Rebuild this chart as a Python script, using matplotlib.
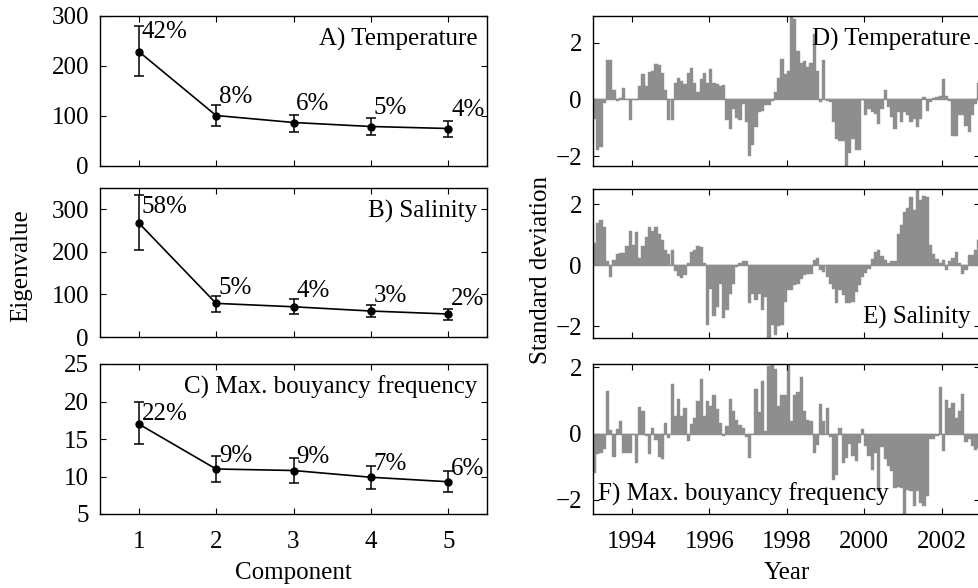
import matplotlib
matplotlib.use('Agg')
import matplotlib.pyplot as plt
import numpy as np

plt.rcParams['font.family'] = ['Liberation Serif', 'DejaVu Serif']
plt.rcParams['font.size'] = 18

# eigenvalue spectra (components 1-5) with error bars
components = [1, 2, 3, 4, 5]

temp_eig = [229, 101, 87, 79, 75]
temp_lo = [181, 80, 69, 63, 59]
temp_hi = [280, 123, 103, 96, 90]
temp_pct = ['42%', '8%', '6%', '5%', '4%']

sal_eig = [268, 79, 71, 61, 54]
sal_lo = [205, 59, 55, 46, 40]
sal_hi = [333, 97, 89, 76, 66]
sal_pct = ['58%', '5%', '4%', '3%', '2%']

buoy_eig = [17.0, 11.0, 10.8, 9.9, 9.3]
buoy_lo = [14.3, 9.3, 9.1, 8.4, 7.9]
buoy_hi = [19.9, 12.7, 12.5, 11.4, 10.7]
buoy_pct = ['22%', '9%', '9%', '7%', '6%']

# monthly principal component time series, Jan 1993 - Dec 2002
months = 1993 + (np.arange(120) + 0.5) / 12.0

temp_pc = [
    -0.7, -1.8, -1.68, -0.12, 1.38, 1.38, 0.32, -0.05, 0.05, 0.39, 0.02, -0.74,
    0.02, -0.03, 0.47, 0.9, 0.47, 0.96, 0.99, 1.26, 1.22, 0.93, 0.35, -0.74,
    -0.74, 0.59, 0.75, 0.67, 0.55, 0.93, 1.1, 0.58, 0.28, 0.73, 0.93, 0.59,
    1.06, 0.59, 0.55, 0.46, 0.52, -0.74, -1.06, -0.33, -0.66, -0.74, -0.15, -0.8,
    -2.0, -1.62, -0.98, -0.45, -0.39, -0.21, -0.18, -0.07, 0.28, 0.75, 1.44, 0.9,
    1.0, 2.95, 2.85, 1.7, 1.3, 1.35, 1.15, 1.3, 2.3, 1.0, -0.1, 1.4,
    -0.05, -0.1, -0.8, -1.4, -1.45, -1.45, -2.35, -1.9, -1.4, -1.8, -1.8, -0.02,
    -0.56, -0.33, -0.45, -0.5, -0.86, -0.33, 0.32, -0.27, -0.62, -1.04, -0.45, -0.8,
    -0.45, -0.56, -0.8, -0.68, -0.98, -0.68, 0.08, -0.39, -0.09, 0.05, 0.08, 0.14,
    0.73, 0.14, -0.05, -1.3, -1.3, -0.55, -0.55, -0.95, -1.15, -0.55, -0.15, 0.6,
]

sal_pc = [
    0.73, 1.38, 1.49, 1.25, 0.15, -0.38, 0.18, 0.38, 0.4, 0.4, 0.62, 1.12,
    0.65, 1.08, 0.25, 0.62, 0.93, 1.25, 1.14, 1.27, 1.03, 0.82, 0.49, 0.36,
    0.51, -0.19, -0.36, -0.41, -0.33, 0.08, 0.44, 0.51, 0.62, 0.6, 0.08, -1.96,
    -0.76, -1.67, -1.36, -0.6, -1.74, -1.47, -0.93, -0.6, -0.05, 0.08, 0.14, 0.14,
    -1.25, -0.93, -1.14, -0.93, -1.47, -1.03, -2.38, -1.96, -2.29, -2.0, -1.96, -1.2,
    -0.82, -0.8, -0.65, -0.6, -0.44, -0.33, -0.27, -0.3, 0.19, 0.25, -0.14, -0.22,
    -0.38, -0.6, -0.76, -1.23, -0.8, -0.98, -1.25, -1.25, -1.2, -0.87, -0.65, -0.38,
    -0.25, -0.11, 0.22, 0.44, 0.49, 0.29, 0.16, 0.08, 0.14, 0.14, 1.03, 1.31,
    1.74, 1.88, 2.25, 1.82, 2.5, 2.15, 2.28, 2.23, 0.65, 0.36, 0.22, 0.08,
    0.19, -0.14, 0.14, 0.25, 0.44, 0.08, -0.27, -0.14, 0.33, 0.33, 0.49, 0.82,
]

buoy_pc = [
    -1.19, -0.63, -0.58, -0.46, 1.28, 0.1, -0.7, 0.13, 0.37, -0.6, -0.6, -0.6,
    -0.05, -0.9, 0.81, 0.69, -0.07, -0.63, 0.18, -0.2, -0.7, -0.77, 0.32, -0.12,
    1.5, 0.52, 1.05, 0.54, 0.76, -0.24, 0.28, 0.46, 0.99, 1.64, 0.52, 0.99,
    0.84, 1.15, 0.74, 0.32, -0.07, 0.23, 1.03, 0.69, 0.41, 0.25, 0.18, -0.09,
    -0.73, 0.0, 1.35, 0.66, 1.58, 0.08, 2.04, 2.1, 1.96, 0.84, 1.17, 1.17,
    2.1, 0.39, 1.17, 1.25, 1.71, 0.69, 0.42, 0.39, -0.58, -0.36, 0.89, 0.39,
    0.76, -0.1, -1.39, -1.24, 0.18, -0.88, -0.73, -0.33, -0.68, -0.83, -0.3, 0.13,
    -0.38, -0.68, -1.09, -0.58, -1.75, -0.4, -0.78, -0.97, -1.14, -1.65, -1.6, -1.65,
    -2.43, -1.7, -1.75, -2.19, -1.75, -2.1, -2.2, -1.9, -0.17, -0.17, -0.07, 1.42,
    -0.53, 1.0, 0.76, 0.92, 0.46, 0.69, 1.2, -0.25, -0.17, -0.38, -0.5, -0.43,
]

W, H = 979, 588
fig = plt.figure(figsize=(W / 100, H / 100), dpi=100)


def box(left, top, right, bottom):
    return [left / W, 1 - bottom / H, (right - left) / W, (bottom - top) / H]


def style(ax):
    ax.tick_params(direction='in', top=True, right=True, length=4, width=0.8)
    for s in ax.spines.values():
        s.set_linewidth(1.0)


left_panels = [
    (box(100, 16, 487, 166), temp_eig, temp_lo, temp_hi, temp_pct, (0, 300), [0, 100, 200, 300],
     'A) Temperature', [14, 13.3, 13.3, 13, 13]),
    (box(100, 188, 487, 337), sal_eig, sal_lo, sal_hi, sal_pct, (0, 350), [0, 100, 200, 300],
     'B) Salinity', [11.5, 11, 11, 11, 10.5]),
    (box(100, 364, 487, 514), buoy_eig, buoy_lo, buoy_hi, buoy_pct, (5, 25), [5, 10, 15, 20, 25],
     'C) Max. bouyancy frequency', [7.2, 9.4, 9.4, 9.4, 9]),
]

for i, (pos, eig, lo, hi, pct, ylim, yt, title, offs) in enumerate(left_panels):
    ax = fig.add_axes(pos)
    eig = np.array(eig)
    yerr = [eig - np.array(lo), np.array(hi) - eig]
    ax.errorbar(components, eig, yerr=yerr, color='k', lw=1.2, marker='o', ms=5,
                capsize=3.5, elinewidth=1.1, capthick=1.1)
    for c, v, p, o in zip(components, eig, pct, offs):
        ax.annotate(p, (c, v), xytext=(2, o), textcoords='offset points',
                    ha='left', va='center')
    ax.set_xlim(0.5, 5.5)
    ax.set_ylim(*ylim)
    ax.set_yticks(yt)
    ax.set_xticks(components)
    style(ax)
    ax.tick_params(axis='y', pad=8)
    ax.tick_params(axis='x', pad=12)
    if i < 2:
        ax.set_xticklabels([])
    else:
        ax.set_xlabel('Component', labelpad=7)
    ax.text(0.975, 0.92, title, transform=ax.transAxes, ha='right', va='top')

right_panels = [
    (box(593, 16, 980.5, 166), temp_pc, 'D) Temperature', (0.975, 0.92, 'right', 'top')),
    (box(593, 189, 980.5, 338), sal_pc, 'E) Salinity', (0.975, 0.06, 'right', 'bottom')),
    (box(593, 364, 980.5, 514), buoy_pc, 'F) Max. bouyancy frequency', (0.013, 0.05, 'left', 'bottom')),
]

bar_color = '#8e8e8e'
for i, (pos, pc, title, tp) in enumerate(right_panels):
    ax = fig.add_axes(pos)
    ax.bar(months, pc, width=1 / 12.0, color=bar_color, edgecolor=bar_color, linewidth=0.3)
    ax.axhline(0, color=bar_color, lw=1.0)
    ax.set_xlim(1993, 2003)
    ax.set_ylim(min(pc), max(pc))
    ax.set_yticks([-2, 0, 2])
    ax.set_yticklabels(['\u22122', '0', '2'])
    ax.set_xticks([1994, 1996, 1998, 2000, 2002])
    style(ax)
    ax.tick_params(axis='y', pad=8)
    ax.tick_params(axis='x', pad=12)
    if i < 2:
        ax.set_xticklabels([])
    else:
        ax.set_xlabel('Year', labelpad=7)
    ax.text(tp[0], tp[1], title, transform=ax.transAxes, ha=tp[2], va=tp[3])

fig.text(21 / W, 1 - 266 / H, 'Eigenvalue', rotation=90, ha='center', va='center')
fig.text(541 / W, 1 - 270 / H, 'Standard deviation', rotation=90, ha='center', va='center')

fig.savefig('out.png', dpi=100)
